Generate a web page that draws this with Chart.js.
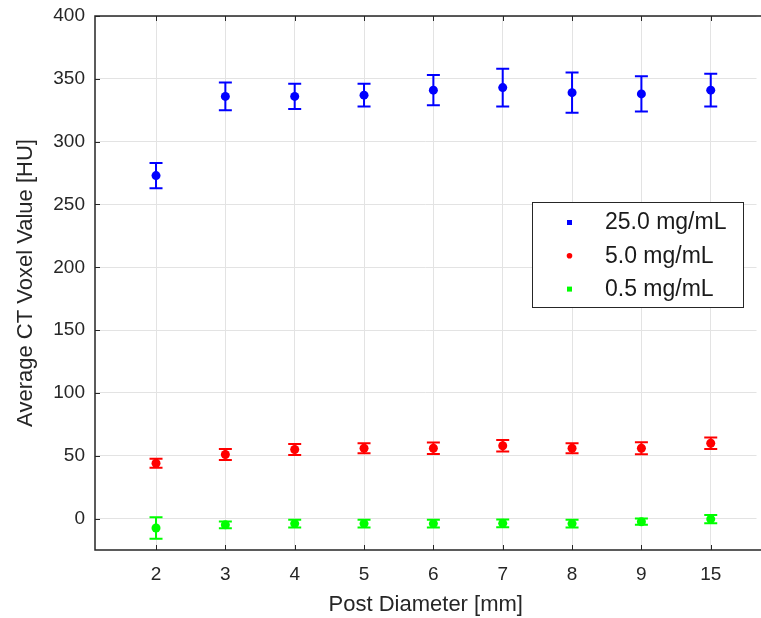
<!DOCTYPE html>
<html lang="en">
<head>
    <meta charset="utf-8" />
    <title>Average CT Voxel Value vs Post Diameter</title>
    <script src="https://cdn.jsdelivr.net/npm/chart.js@4.4.0/dist/chart.umd.min.js"></script>
    <style>
        html, body { margin: 0; padding: 0; background: #fff; }
        #wrap { width: 761px; height: 618px; }
    </style>
</head>
<body>
    <div id="wrap"><canvas id="chart"></canvas></div>
    <script>
        // post diameters (categories, drawn equally spaced)
        const diameters = ['2', '3', '4', '5', '6', '7', '8', '9', '15'];
        const yTicks = [0, 50, 100, 150, 200, 250, 300, 350, 400];

        const labels = ['25.0 mg/mL', '5.0 mg/mL', '0.5 mg/mL'];
        const colors = ['#0000ff', '#ff0000', '#00ff00'];

        const hu25 = [273, 336, 336, 337, 341, 343, 339, 338, 341];
        const err25 = [10, 11, 10, 9, 12, 15, 16, 14, 13];
        const hu5 = [44, 51, 55, 56, 56, 58, 56, 56, 60];
        const err5 = [3.6, 4.3, 4.4, 4, 4.5, 4.6, 4, 4.7, 4.6];
        const hu05 = [-7.5, -5, -4, -4, -4, -3.8, -4, -2.5, -0.4];
        const err05 = [8.5, 2.7, 3, 3, 3, 3, 3, 2.5, 3.3];

        const values = [hu25, hu5, hu05];
        const errors = [err25, err5, err05];

        const axisColor = '#262626';
        const font = 'Liberation Sans, Arial, Helvetica, sans-serif';

        const datasets = values.map((vals, k) => ({
            label: labels[k],
            data: vals.map((v, i) => ({ x: i + 1, y: v })),
            errs: errors[k],
            backgroundColor: colors[k],
            borderColor: colors[k],
            borderWidth: 0,
            pointRadius: 4.5,
            pointHoverRadius: 4.5
        }));

        // error bars, box, inner ticks and legend (matlab look)
        const extras = {
            id: 'extras',
            beforeDatasetsDraw(chart) {
                const ctx = chart.ctx;
                const xs = chart.scales.x, ys = chart.scales.y;
                ctx.save();
                ctx.lineWidth = 2;
                chart.data.datasets.forEach(ds => {
                    ctx.strokeStyle = ds.borderColor;
                    ds.data.forEach((p, i) => {
                        const px = xs.getPixelForValue(p.x);
                        const top = ys.getPixelForValue(p.y + ds.errs[i]);
                        const bot = ys.getPixelForValue(p.y - ds.errs[i]);
                        ctx.beginPath();
                        ctx.moveTo(px, top); ctx.lineTo(px, bot);
                        ctx.moveTo(px - 6.5, top); ctx.lineTo(px + 6.5, top);
                        ctx.moveTo(px - 6.5, bot); ctx.lineTo(px + 6.5, bot);
                        ctx.stroke();
                    });
                });
                ctx.restore();
            },
            afterDraw(chart) {
                const ctx = chart.ctx;
                const a = chart.chartArea;
                const xs = chart.scales.x, ys = chart.scales.y;
                ctx.save();
                ctx.strokeStyle = axisColor;
                ctx.lineWidth = 1.5;
                ctx.beginPath();
                ctx.moveTo(chart.width, a.top); ctx.lineTo(a.left, a.top);
                ctx.lineTo(a.left, a.bottom); ctx.lineTo(chart.width, a.bottom);
                ctx.stroke();

                ctx.lineWidth = 1;
                ctx.beginPath();
                xs.ticks.forEach(t => {
                    const px = Math.round(xs.getPixelForValue(t.value)) + 0.5;
                    ctx.moveTo(px, a.bottom); ctx.lineTo(px, a.bottom - 5);
                    ctx.moveTo(px, a.top); ctx.lineTo(px, a.top + 5);
                });
                ys.ticks.forEach(t => {
                    const py = Math.round(ys.getPixelForValue(t.value)) + 0.5;
                    ctx.moveTo(a.left, py); ctx.lineTo(a.left + 5, py);
                });
                ctx.stroke();

                // legend box
                const bx = 532, by = 202, bw = 211, bh = 105;
                ctx.fillStyle = '#fff';
                ctx.fillRect(bx, by, bw, bh);
                ctx.strokeStyle = axisColor;
                ctx.lineWidth = 1;
                ctx.strokeRect(bx + 0.5, by + 0.5, bw, bh);
                ctx.font = '23px ' + font;
                ctx.textBaseline = 'middle';
                chart.data.datasets.forEach((ds, k) => {
                    const ly = by + 20 + k * 33.3;
                    ctx.fillStyle = ds.backgroundColor;
                    if (k === 1) {
                        ctx.beginPath();
                        ctx.arc(bx + 37.5, ly + 0.5, 2.8, 0, Math.PI * 2);
                        ctx.fill();
                    } else {
                        ctx.fillRect(bx + 35, ly - 2, 5, 5);
                    }
                    ctx.fillStyle = '#1a1a1a';
                    ctx.fillText(ds.label, bx + 73, ly + 1);
                });
                ctx.restore();
            }
        };

        const ctx = document.getElementById('chart').getContext('2d');
        const chart = new Chart(ctx, {
            type: 'scatter',
            data: { datasets: datasets },
            options: {
                responsive: true,
                maintainAspectRatio: false,
                animation: false,
                layout: { padding: { top: 16, right: 0, left: 0, bottom: 0 } },
                plugins: {
                    legend: { display: false },
                    tooltip: { enabled: false }
                },
                scales: {
                    x: {
                        type: 'linear',
                        min: 0.12,
                        max: 9.66,
                        afterBuildTicks: s => { s.ticks = diameters.map((d, i) => ({ value: i + 1 })); },
                        afterFit: s => { s.height = 68; s.paddingLeft = 0; s.paddingRight = 0; },
                        ticks: {
                            autoSkip: false,
                            maxRotation: 0,
                            padding: 13,
                            color: axisColor,
                            font: { family: font, size: 19 },
                            callback: v => diameters[v - 1]
                        },
                        grid: { color: '#e3e3e3', drawTicks: false },
                        border: { display: false },
                        title: {
                            display: true,
                            text: 'Post Diameter [mm]',
                            color: axisColor,
                            font: { family: font, size: 22 },
                            padding: { top: 0, bottom: 0 }
                        }
                    },
                    y: {
                        min: -25,
                        max: 400,
                        afterBuildTicks: s => { s.ticks = yTicks.map(v => ({ value: v })); },
                        afterFit: s => { s.width = 95; s.paddingTop = 0; s.paddingBottom = 0; },
                        ticks: {
                            padding: 10,
                            color: axisColor,
                            font: { family: font, size: 19 }
                        },
                        grid: { color: '#e3e3e3', drawTicks: false },
                        border: { display: false },
                        title: {
                            display: true,
                            text: 'Average CT Voxel Value [HU]',
                            color: axisColor,
                            font: { family: font, size: 22 },
                            padding: { top: 13, bottom: 0 }
                        }
                    }
                }
            },
            plugins: [extras]
        });
    </script>
</body>
</html>
